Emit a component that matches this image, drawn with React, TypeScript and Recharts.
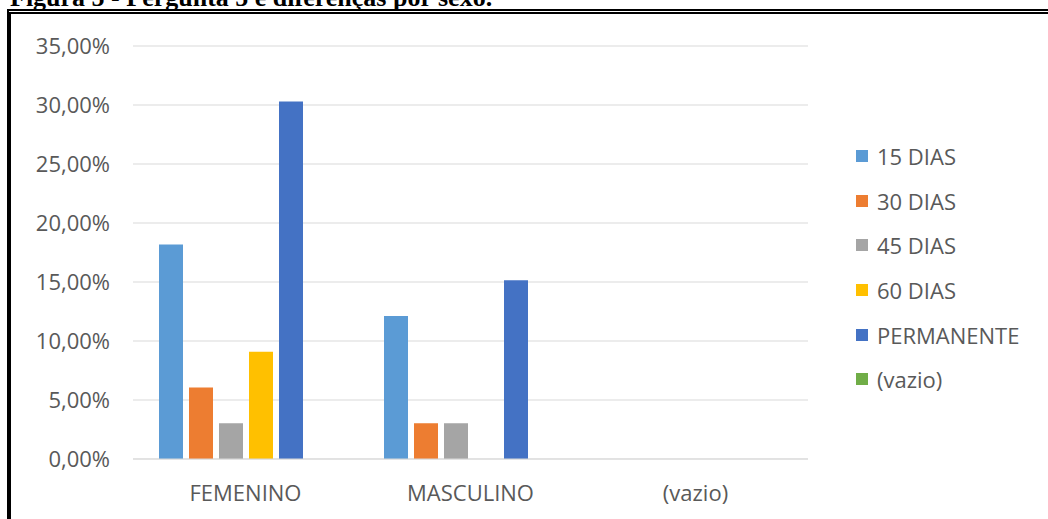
import { BarChart, Bar, XAxis, YAxis, CartesianGrid, Legend } from "recharts";

// Data
const categories = ["FEMENINO", "MASCULINO", "(vazio)"];
const dias15 = [18.18, 12.12, null];
const dias30 = [6.06, 3.03, null];
const dias45 = [3.03, 3.03, null];
const dias60 = [9.09, 0, null];
const permanente = [30.3, 15.15, null];
const vazio = [null, null, null];
const yTicks = [0, 5, 10, 15, 20, 25, 30, 35];

const seriesList = [
	{ key: "15 DIAS", values: dias15, color: "#5B9BD5" },
	{ key: "30 DIAS", values: dias30, color: "#ED7D31" },
	{ key: "45 DIAS", values: dias45, color: "#A5A5A5" },
	{ key: "60 DIAS", values: dias60, color: "#FFC000" },
	{ key: "PERMANENTE", values: permanente, color: "#4472C4" },
	{ key: "(vazio)", values: vazio, color: "#70AD47" },
];

const data = categories.map((name, i) => {
	const row: { [key: string]: string | number | null } = { name };
	seriesList.forEach((s) => {
		row[s.key] = s.values[i];
	});
	return row;
});

const FONT = "'Open Sans', sans-serif";
const TEXT = "#595959";

const formatPct = (v: number) => v.toFixed(2).replace(".", ",") + "%";

const LegendBox = () => (
	<div style={{ fontFamily: FONT, fontSize: 22, color: TEXT }}>
		{seriesList.map((s) => (
			<div
				key={s.key}
				style={{ display: "flex", alignItems: "center", height: 44.6 }}
			>
				<span
					style={{
						display: "inline-block",
						width: 12,
						height: 12,
						background: s.color,
						marginRight: 9,
					}}
				/>
				<span>{s.key}</span>
			</div>
		))}
	</div>
);

function App() {
	return (
		<div
			style={{
				position: "fixed",
				left: 0,
				top: 0,
				width: 1048,
				height: 519,
				overflow: "hidden",
				background: "#fff",
			}}
		>
			{/* caption sits above the frame, only its lower part shows */}
			<div
				style={{
					position: "absolute",
					left: 10,
					top: -15,
					fontFamily: "'Liberation Serif', serif",
					fontWeight: "bold",
					fontSize: 26,
					lineHeight: "26px",
					whiteSpace: "nowrap",
				}}
			>
				Figura 5 - Pergunta 5 e diferenças por sexo.
			</div>
			<div
				style={{
					position: "absolute",
					left: 7,
					top: 9,
					width: 1100,
					height: 600,
					borderTop: "5px double #000",
					borderLeft: "4px solid #000",
					background: "#fff",
				}}
			/>
			<div style={{ position: "absolute", left: 0, top: 0 }}>
				<BarChart
					width={1040}
					height={519}
					data={data}
					margin={{ top: 46, right: 232, bottom: 0, left: 0 }}
					barCategoryGap={26}
					barGap={6}
				>
					<CartesianGrid vertical={false} stroke="#d9d9d9" />
					<XAxis
						dataKey="name"
						height={60}
						tickLine={false}
						axisLine={{ stroke: "#d9d9d9" }}
						tickMargin={20}
						tick={{ fill: TEXT, fontSize: 22, fontFamily: FONT }}
					/>
					<YAxis
						width={133}
						domain={[0, 35]}
						ticks={yTicks}
						interval={0}
						tickFormatter={formatPct}
						axisLine={false}
						tickLine={false}
						tickMargin={17}
						tick={{ fill: TEXT, fontSize: 22, fontFamily: FONT }}
					/>
					<Legend
						layout="vertical"
						align="center"
						verticalAlign="middle"
						content={<LegendBox />}
						wrapperStyle={{ left: 856, top: 134, width: 190 }}
					/>
					{seriesList.map((s) => (
						<Bar
							key={s.key}
							dataKey={s.key}
							fill={s.color}
							isAnimationActive={false}
						/>
					))}
				</BarChart>
			</div>
		</div>
	);
}

export default App;
